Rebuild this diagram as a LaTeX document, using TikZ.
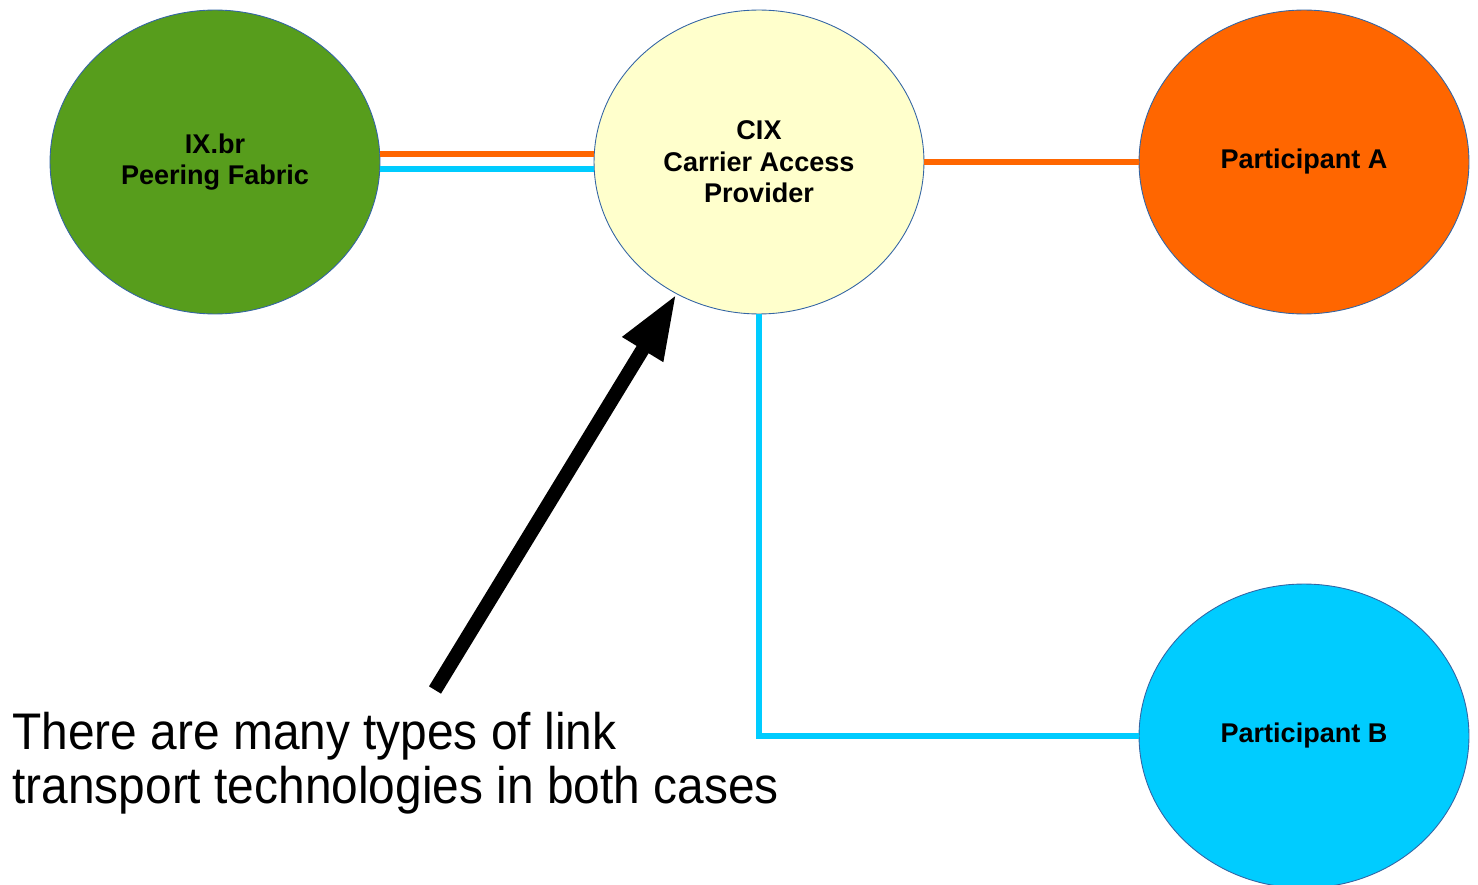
\documentclass[tikz,border=0pt]{standalone}
\usepackage{fontspec}
\setmainfont{Liberation Sans}
\newfontfamily\notefont[FakeStretch=0.93]{Liberation Sans}
\usetikzlibrary{arrows.meta,shapes.geometric}
\definecolor{fabricgreen}{HTML}{579D1C}
\definecolor{cixyellow}{HTML}{FFFFCC}
\definecolor{linkorange}{HTML}{FF6600}
\definecolor{linkcyan}{HTML}{00CCFF}
\definecolor{rimblue}{HTML}{3465A4}
\tikzset{
  site/.style={ellipse, draw=rimblue, line width=0.5pt, minimum width=6.6cm,
    minimum height=6.08cm, inner sep=0pt, align=center,
    font=\fontsize{15.4}{17.9}\selectfont\bfseries},
  orangelink/.style={draw=linkorange, line width=3.4pt},
  cyanlink/.style={draw=linkcyan, line width=3.4pt}
}
\begin{document}
\begin{tikzpicture}[x=0.02cm, y=-0.02cm]
      \useasboundingbox (0,0) rectangle (1478,885);
      \draw
        (215,162) node[site, fill=fabricgreen] (ix){IX.br\\Peering Fabric}
        (759,162) node[site, fill=cixyellow] (cix){CIX\\Carrier Access\\Provider}
        (1304,162) node[site, fill=linkorange] (pa){Participant A}
        (1304,736) node[site, fill=linkcyan] (pb){Participant B};
      \node[anchor=north west, inner sep=0pt, align=left,
        font=\notefont\fontsize{29.3}{30.7}\selectfont] (note) at (12,712)
        {There are many types of link\\transport technologies in both cases};
      \coordinate (tail) at (435,690);
      \begin{scope}[-]
        \draw[orangelink] ([yshift=0.16cm]ix.east) to ([yshift=0.16cm]cix.west);
        \draw[cyanlink] ([yshift=-0.14cm]ix.east) to ([yshift=-0.14cm]cix.west);
        \draw[orangelink] (cix.east) to (pa.west);
        \draw[cyanlink] (cix.south) |- (pb.west);
      \end{scope}
      \draw[line width=8pt, -{Triangle[length=37pt, width=25pt]}] (tail) to (cix.238);
    \end{tikzpicture}
\end{document}
